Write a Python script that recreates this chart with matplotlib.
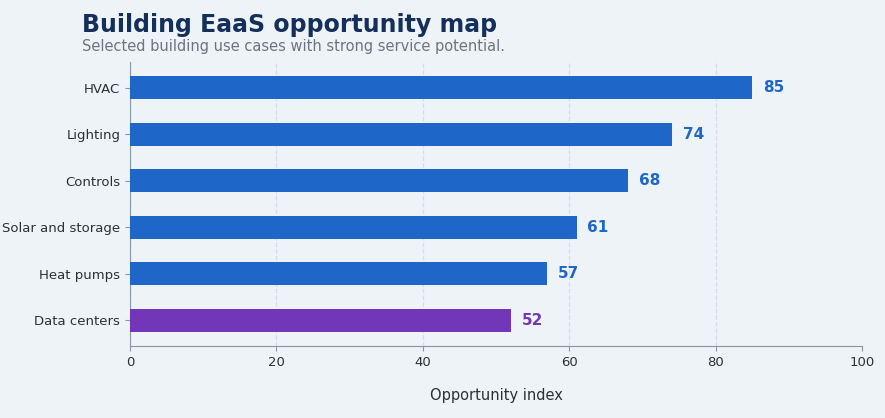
import matplotlib.pyplot as plt

categories = ["HVAC", "Lighting", "Controls", "Solar and storage", "Heat pumps", "Data centers"]
values = [85, 74, 68, 61, 57, 52]
colors = ["#1f66c9"] * 5 + ["#7236b8"]
label_colors = ["#1f66c9"] * 5 + ["#7236b8"]

bg = "#eef3f8"
fig = plt.figure(figsize=(8.85, 4.18), dpi=100, facecolor=bg)
ax = fig.add_axes([130/885, 1-346/418, 732/885, 284/418], facecolor=bg)

y = list(range(len(categories)))[::-1]
ax.barh(y, values, height=0.5, color=colors, zorder=3)
for yi, v, c in zip(y, values, label_colors):
    ax.text(v + 1.5, yi, str(v), va="center", ha="left", color=c,
            fontsize=11, fontweight="bold")

ax.set_yticks(y)
ax.set_yticklabels(categories, fontsize=9.5, color="#2b2f38")
ax.set_xlim(0, 100)
ax.set_ylim(-0.55, 5.55)
ax.set_xticks([0, 20, 40, 60, 80, 100])
ax.tick_params(axis="x", labelsize=9.5, colors="#2b2f38")
ax.tick_params(axis="both", color="#8a95a5")
ax.grid(axis="x", linestyle="--", color="#d5dde8", linewidth=0.9, zorder=0)
for s in ["top", "right"]:
    ax.spines[s].set_visible(False)
for s in ["left", "bottom"]:
    ax.spines[s].set_color("#8a95a5")
ax.set_xlabel("Opportunity index", fontsize=10.5, color="#2b2f38", labelpad=14)

fig.text(82/885, 1-25/418, "Building EaaS opportunity map", fontsize=17,
         fontweight="bold", color="#14305a", va="center")
fig.text(82/885, 1-46/418, "Selected building use cases with strong service potential.",
         fontsize=10.5, color="#6b7482", va="center")

fig.savefig("out.png", dpi=100, facecolor=bg)
